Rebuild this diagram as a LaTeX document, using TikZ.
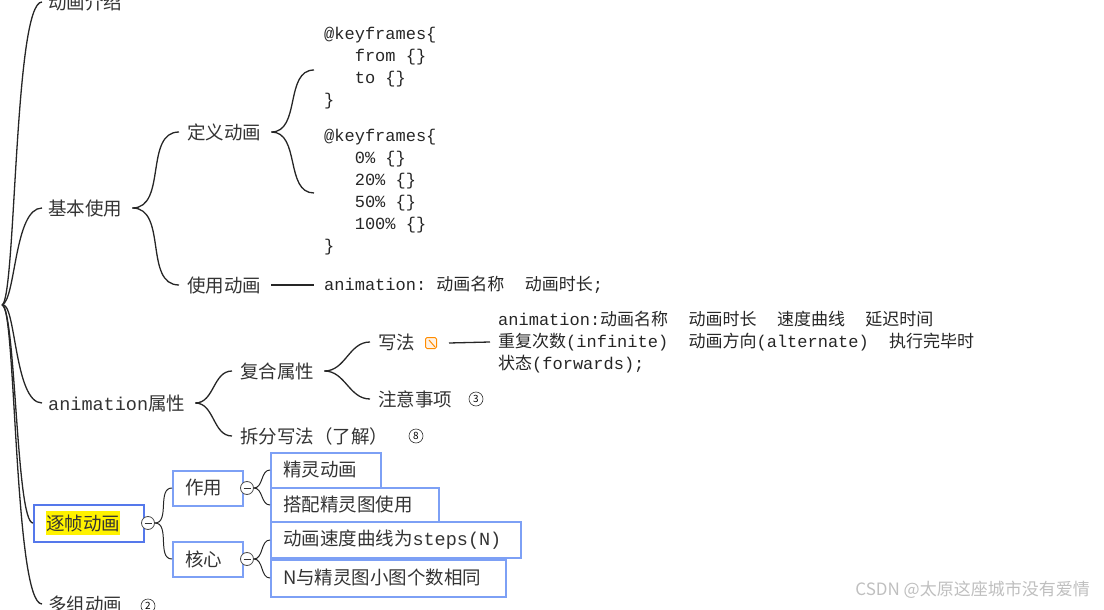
\documentclass[tikz,border=0pt]{standalone}
\usepackage{fontspec}
\setmainfont{Noto Sans CJK SC}
\setmonofont{Liberation Mono}
\newcommand{\tsp}{\texttt{\ \ }}
\begin{document}
\begin{tikzpicture}[x=1pt,y=-1pt,
  txt/.style={anchor=west,inner sep=0pt,font=\fontsize{18.5}{20}\selectfont,text=black!80},
  code/.style={anchor=west,inner sep=0pt,font=\ttfamily\fontsize{17}{22}\selectfont,text=black!85,align=left},
  br/.style={line width=1.3pt,black!85},
  bx/.style={draw=bluebox,line width=2pt,anchor=west,inner xsep=12pt,minimum height=35pt,align=left,font=\fontsize{18.5}{20}\selectfont,text=black!80},
  tog/.style={circle,draw=black!70,fill=white,inner sep=0pt,minimum size=13pt,line width=0.8pt},
  num/.style={circle,draw=black!80,inner sep=0pt,minimum size=14pt,font=\fontsize{10}{10}\selectfont,line width=0.6pt}]
\definecolor{bluebox}{RGB}{125,160,245}
\definecolor{bluedark}{RGB}{85,120,235}
\useasboundingbox (0,0) rectangle (1104,610);
\coordinate (root) at (2,305);
% level 1
\node[txt] (intro) at (48,2) {动画介绍};
\node[txt] (basic) at (48,208) {基本使用};
\node[txt] (prop) at (48,403) {\texttt{animation}属性};
\node[bx,draw=bluedark,text width=86pt,minimum height=37pt] (frame) at (33,523) {\colorbox{yellow}{\hspace{-3pt}逐帧动画\hspace{-3pt}}};
\node[txt] (multi) at (48,604) {多组动画};
\node[num] (n2) at (148,606) {2};
\foreach \t in {intro,basic,prop,multi}
  \draw[br] (root) .. controls (16,300) and (14,0 |- \t.west) .. ([xshift=-6pt]\t.west);
\draw[br] (root) .. controls (16,310) and (16,523) .. (frame.west);
% basic
\node[txt] (def) at (187,132) {定义动画};
\node[txt] (use) at (187,285) {使用动画};
\draw[br] ([xshift=10pt]basic.east) to[out=0,in=180] ([xshift=-8pt]def.west);
\draw[br] ([xshift=10pt]basic.east) to[out=0,in=180] ([xshift=-8pt]use.west);
\node[code,anchor=north west] (c1) at (324,27) {@keyframes\{\\\ \ \ from \{\}\\\ \ \ to \{\}\\\}};
\node[code,anchor=north west] (c2) at (324,129) {@keyframes\{\\\ \ \ 0\% \{\}\\\ \ \ 20\% \{\}\\\ \ \ 50\% \{\}\\\ \ \ 100\% \{\}\\\}};
\coordinate (c1a) at (314,70);
\coordinate (c2a) at (314,193);
\draw[br] ([xshift=10pt]def.east) to[out=0,in=180] (c1a);
\draw[br] ([xshift=10pt]def.east) to[out=0,in=180] (c2a);
\node[code] (usec) at (324,285) {animation: {\rmfamily 动画名称}\ \ {\rmfamily 动画时长};};
\draw[br] ([xshift=10pt]use.east) -- ([xshift=-10pt]usec.west);
% animation props
\node[txt] (comp) at (240,371) {复合属性};
\node[txt] (split) at (240,436) {拆分写法（了解）};
\node[num] (n8) at (416,436) {8};
\draw[br] ([xshift=10pt]prop.east) to[out=0,in=180] ([xshift=-8pt]comp.west);
\draw[br] ([xshift=10pt]prop.east) to[out=0,in=180] ([xshift=-8pt]split.west);
\node[txt] (write) at (378,342) {写法};
\node[txt] (note) at (378,399) {注意事项};
\node[num] (n3) at (476,399) {3};
\draw[br] ([xshift=10pt]comp.east) to[out=0,in=180] ([xshift=-8pt]write.west);
\draw[br] ([xshift=10pt]comp.east) to[out=0,in=180] ([xshift=-8pt]note.west);
\node[draw=orange!90!yellow,fill=orange!10,rounded corners=1.5pt,line width=1pt,minimum size=11pt,inner sep=0pt] (icon) at (431,343) {};
\draw[orange!90!yellow,line width=1pt] ([xshift=-2pt,yshift=3pt]icon.center) -- ([xshift=4pt,yshift=-4pt]icon.center);
\node[code] (wtext) at (498,342) {animation:{\rmfamily 动画名称}\tsp{\rmfamily 动画时长}\tsp{\rmfamily 速度曲线}\tsp{\rmfamily 延迟时间}\\{\rmfamily 重复次数}(infinite)\ \ {\rmfamily 动画方向}(alternate)\ \ {\rmfamily 执行完毕时}\\{\rmfamily 状态}(forwards);};
\draw[br] ([xshift=12pt]icon.east) -- ([xshift=-8pt]wtext.west);
% frame animation
\node[tog] (t0) at (148,523) {};
\draw[black!80,line width=0.8pt] ([xshift=-3.5pt]t0.center) -- ([xshift=3.5pt]t0.center);
\node[bx,text width=46pt] (act) at (172,488) {作用};
\node[bx,text width=46pt] (core) at (172,559) {核心};
\draw[br,line width=1pt] (t0.east) to[out=0,in=180] (act.west);
\draw[br,line width=1pt] (t0.east) to[out=0,in=180] (core.west);
\node[tog] (t1) at (247,488) {};
\node[tog] (t2) at (247,559) {};
\foreach \t in {t1,t2} \draw[black!80,line width=0.8pt] ([xshift=-3.5pt]\t.center) -- ([xshift=3.5pt]\t.center);
\node[bx,text width=86pt,minimum height=35pt] (s1) at (270,470) {精灵动画};
\node[bx,text width=144pt,minimum height=34pt] (s2) at (270,505) {搭配精灵图使用};
\node[bx,text width=226pt,minimum height=36pt] (s3) at (270,540) {动画速度曲线为\texttt{steps(N)}};
\node[bx,text width=211pt,minimum height=37pt] (s4) at (270,578) {N与精灵图小图个数相同};
\draw[br,line width=1pt] (t1.east) to[out=0,in=180] (s1.west);
\draw[br,line width=1pt] (t1.east) to[out=0,in=180] (s2.west);
\draw[br,line width=1pt] (t2.east) to[out=0,in=180] (s3.west);
\draw[br,line width=1pt] (t2.east) to[out=0,in=180] (s4.west);
\node[anchor=east,inner sep=0pt,text=black!25,font=\fontsize{17}{17}\selectfont] (wm) at (1090,590) {CSDN @太原这座城市没有爱情};
\end{tikzpicture}
\end{document}
